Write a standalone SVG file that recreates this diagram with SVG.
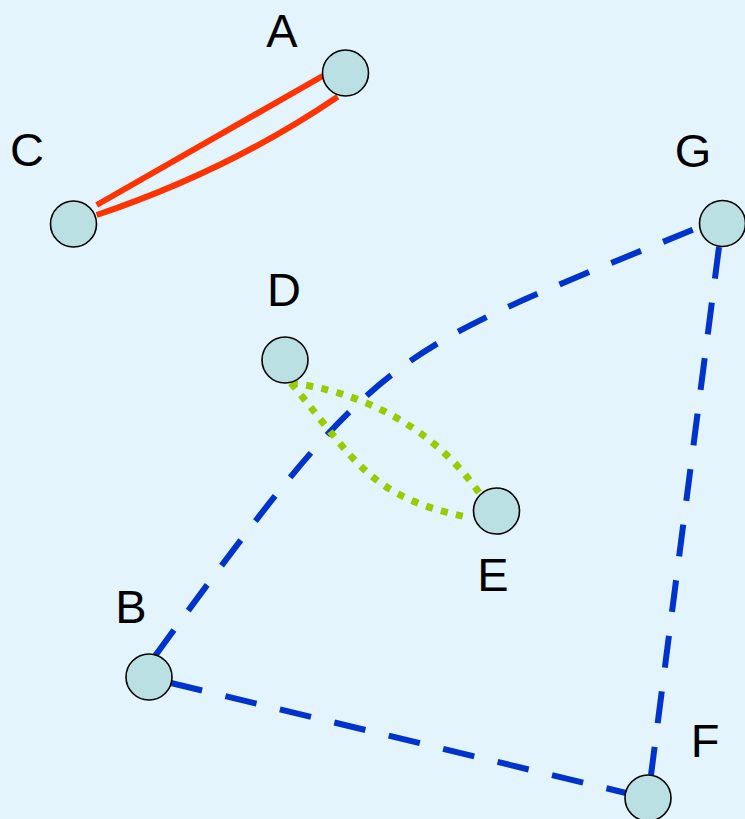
<svg xmlns="http://www.w3.org/2000/svg" width="745" height="819" viewBox="0 0 745 819">
<style>
.node{fill:#BAE0E3;stroke:#000;stroke-width:1.6}
.lbl{font-family:"Liberation Sans",Arial,sans-serif;font-size:47px;fill:#000;text-anchor:middle}
.red{fill:none;stroke:#FF3300;stroke-width:6}
.blue{fill:none;stroke:#0033CC;stroke-width:6;stroke-dasharray:32 24}
.green{fill:none;stroke:#99CC00;stroke-width:7;stroke-dasharray:7 8.5}
</style>
<rect width="745" height="819" fill="#E3F4FD"/>
<g id="connectors">
<path class="red" d="M96.7,205 L322.7,76"/>
<path class="red" d="M96.7,215 Q230,170 337.7,96.7"/>
<path class="blue" d="M155,656 C384,342 385,356 697,228"/>
<path class="blue" d="M171,683 L626,793"/>
<path class="blue" d="M719,247 L651,775"/>
<path class="green" d="M291,383 C350,390 430,420 482,497"/>
<path class="green" d="M291,383 C355,460 369,497 467,517"/>
</g>
<g id="A"><circle class="node" cx="345.5" cy="73" r="23"/><text class="lbl" x="282" y="46.5">A</text></g>
<g id="C"><circle class="node" cx="73.5" cy="224" r="23"/><text class="lbl" x="27" y="166">C</text></g>
<g id="G"><circle class="node" cx="722.5" cy="223.5" r="23"/><text class="lbl" x="693" y="167">G</text></g>
<g id="D"><circle class="node" cx="285" cy="360" r="23"/><text class="lbl" x="284" y="306">D</text></g>
<g id="E"><circle class="node" cx="496.5" cy="511" r="23"/><text class="lbl" x="493" y="590.5">E</text></g>
<g id="B"><circle class="node" cx="149" cy="677" r="23"/><text class="lbl" x="131" y="623">B</text></g>
<g id="F"><circle class="node" cx="648" cy="798" r="23"/><text class="lbl" x="705" y="756.5">F</text></g>
</svg>
